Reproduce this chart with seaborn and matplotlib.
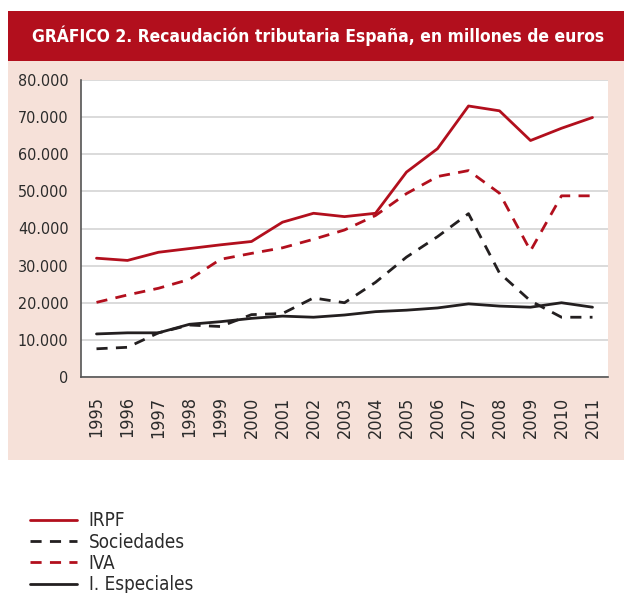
import matplotlib
matplotlib.use("Agg")
import matplotlib.pyplot as plt
import matplotlib.patches as mpatches
from matplotlib.ticker import FuncFormatter, FixedLocator
import seaborn as sns
import pandas as pd

years = list(range(1995, 2012))
irpf = [32.0, 31.4, 33.6, 34.6, 35.6, 36.5, 41.7, 44.1, 43.2, 44.1, 55.2, 61.5, 73.0, 71.7, 63.7, 67.0, 69.9]
sociedades = [7.6, 8.0, 11.9, 14.0, 13.6, 16.8, 17.1, 21.3, 20.0, 25.5, 32.3, 37.8, 44.0, 28.0, 20.5, 16.1, 16.1]
iva = [20.1, 22.1, 23.9, 26.3, 31.7, 33.3, 34.8, 37.1, 39.6, 43.5, 49.4, 54.0, 55.6, 49.5, 34.0, 48.8, 48.8]
especiales = [11.6, 11.9, 11.9, 14.2, 14.9, 15.8, 16.4, 16.1, 16.7, 17.6, 18.0, 18.6, 19.7, 19.1, 18.8, 20.0, 18.8]
series_names = ["IRPF", "Sociedades", "IVA", "I. Especiales"]
title = "GRÁFICO 2. Recaudación tributaria España, en millones de euros"

RED = "#b20f1d"
BLACK = "#231f20"
PINK = "#f6e1d9"
TXT = "#2b2b2b"

sns.set_style("white")
plt.rcParams["font.family"] = ["DejaVu Sans"]
plt.rcParams["font.stretch"] = "condensed"

rows = []
for name, vals in zip(series_names, [irpf, sociedades, iva, especiales]):
    for y, v in zip(years, vals):
        rows.append({"Año": y, "valor": v * 1000, "serie": name})
df = pd.DataFrame(rows)

fig = plt.figure(figsize=(6.24, 5.93), dpi=100)
bg = fig.add_axes([0, 0, 1, 1], zorder=-5)
bg.set_xlim(0, 624)
bg.set_ylim(593, 0)
bg.axis("off")
bg.add_patch(mpatches.Rectangle((8, 61), 616, 399, color=PINK, lw=0))
bg.add_patch(mpatches.Rectangle((8, 11), 616, 50, color=RED, lw=0))
bg.text(318, 36, title, color="white", fontsize=12.5, fontweight="bold",
        ha="center", va="center")

ax = fig.add_axes([81/624, 1-377/593, (608-81)/624, (377-80)/593])
ax.set_facecolor("white")

palette = {"IRPF": RED, "Sociedades": BLACK, "IVA": RED, "I. Especiales": BLACK}
dashes = {"IRPF": "", "Sociedades": (4, 3), "IVA": (4, 3), "I. Especiales": ""}
sns.lineplot(data=df, x="Año", y="valor", hue="serie", style="serie",
             palette=palette, dashes=dashes, hue_order=series_names,
             style_order=series_names, linewidth=2, ax=ax, legend=True)

ax.set_ylim(0, 80000)
ax.set_xlim(years[0] - 0.5, years[-1] + 0.5)
ax.yaxis.set_major_locator(FixedLocator(list(range(0, 80001, 10000))))
ax.yaxis.set_major_formatter(FuncFormatter(lambda v, p: f"{int(v):,}".replace(",", ".")))
ax.grid(axis="y", color="#d4d4d4", linewidth=1.2)
ax.set_axisbelow(True)
ax.set_xticks(years)
ax.set_xticklabels([str(y) for y in years], rotation=90, fontsize=13, color=TXT)
ax.set_xticks([y - 0.5 for y in years] + [years[-1] + 0.5], minor=True)
ax.tick_params(axis="x", which="major", length=0, pad=14)
ax.tick_params(axis="x", which="minor", length=5, color="#555555", width=1)
ax.tick_params(axis="y", length=6, color="#555555", width=1, labelsize=11.5, labelcolor=TXT, pad=3)
ax.set_xlabel("")
ax.set_ylabel("")
for s in ["top", "right"]:
    ax.spines[s].set_visible(False)
for s in ["left", "bottom"]:
    ax.spines[s].set_color("#555555")
    ax.spines[s].set_linewidth(1.2)

handles, labels = ax.get_legend_handles_labels()
ax.legend_.remove()
leg = fig.legend(handles, labels, loc="upper left", bbox_to_anchor=(22/624, 1-504/593),
                 frameon=False, fontsize=13.5, handlelength=2.55, labelspacing=0.12,
                 handletextpad=0.6, borderaxespad=0)
for t in leg.get_texts():
    t.set_color(TXT)

fig.savefig("out.png", dpi=100)
